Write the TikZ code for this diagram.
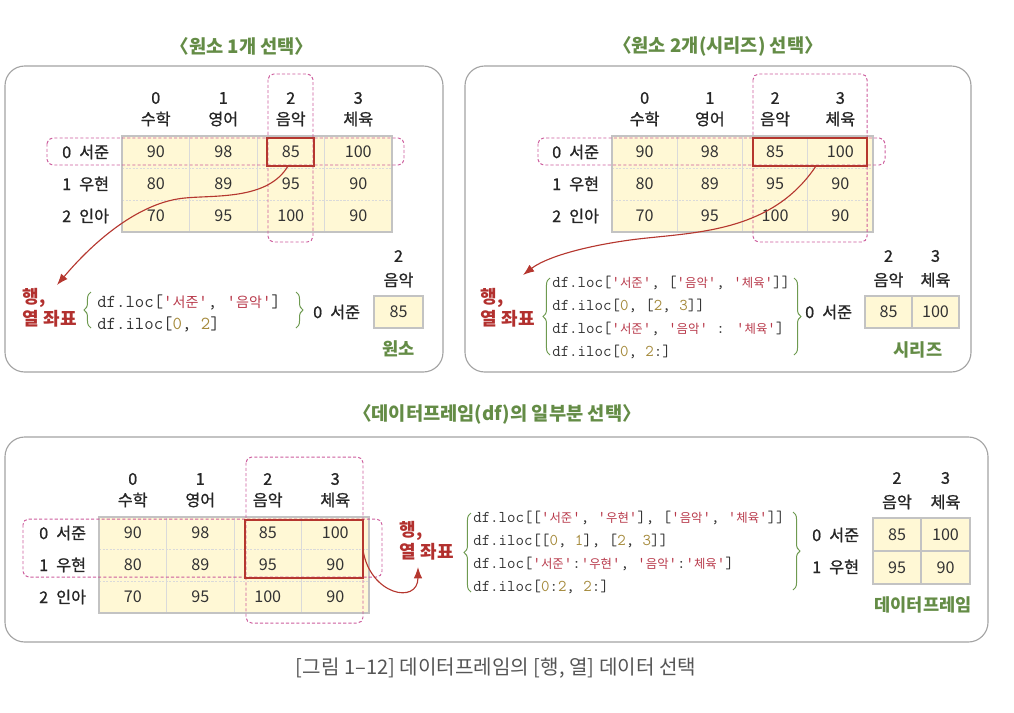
\documentclass[tikz,border=0pt]{standalone}
\usepackage{fontspec}
\setmainfont{Noto Sans CJK KR}
\newfontfamily\kofont{Noto Sans CJK KR}
\newfontfamily\kosemi[FakeBold=1.1]{Noto Sans CJK KR}
\usetikzlibrary{decorations.pathreplacing,arrows.meta}

\definecolor{panelgray}{HTML}{A3A3A3}
\definecolor{titlegreen}{HTML}{648C46}
\definecolor{labred}{HTML}{B2302E}
\definecolor{pickred}{HTML}{B5372F}
\definecolor{selpink}{HTML}{CC5C9C}
\definecolor{cellfill}{HTML}{FFF8D5}
\definecolor{framegray}{HTML}{C3C3C3}
\definecolor{linegray}{HTML}{DADADA}
\definecolor{codered}{HTML}{B83A4B}
\definecolor{codenum}{HTML}{A58A3C}
\definecolor{codeblack}{HTML}{333333}
\definecolor{bracegreen}{HTML}{6E9A50}
\definecolor{capgray}{HTML}{555555}

% quoted Korean key and coloured number inside code
\newcommand{\kq}[1]{\textcolor{codered}{'{\kofont\fontsize{8.8}{10}\selectfont #1}'}}
\newcommand{\kqbig}[1]{\textcolor{codered}{'{\kofont\fontsize{10}{11}\selectfont #1}'}}
\newcommand{\cn}[1]{\textcolor{codenum}{#1}}

\begin{document}
\begin{tikzpicture}[x=0.025cm, y=-0.025cm,
    panel/.style={draw=panelgray, line width=0.8pt, rounded corners=14pt},
    title/.style={font=\bfseries\fontsize{13.3}{15}\selectfont, text=titlegreen},
    lab/.style={font=\kosemi\fontsize{11.5}{13}\selectfont, text=black!85},
    cell/.style={font=\fontsize{11.5}{13}\selectfont, text=black!80},
    tableframe/.style={draw=framegray, line width=1.6pt},
    cellline/.style={draw=linegray, line width=0.5pt},
    rowline/.style={draw=linegray, line width=0.5pt, dash pattern=on 1.5pt off 1pt},
    pick/.style={draw=pickred, line width=1.6pt},
    selbox/.style={draw=selpink, line width=0.7pt, dash pattern=on 2.2pt off 1.5pt, rounded corners=4pt},
    coordlab/.style={font=\bfseries\fontsize{12.8}{15.5}\selectfont, text=labred, align=left},
    codetxt/.style={font=\ttfamily\fontsize{11.7}{16.3}\selectfont, text=codeblack, align=left, inner sep=0pt},
    brc/.style={draw=bracegreen, line width=0.7pt, decorate, decoration={brace, amplitude=5pt}},
    ray/.style={draw=pickred, line width=0.8pt, -{Latex[length=8pt, width=6pt]}},
    kind/.style={font=\bfseries\fontsize{12.5}{14}\selectfont, text=titlegreen},
    minibox/.style={draw=framegray, line width=1.6pt, fill=cellfill}
  ]
  \useasboundingbox (0,0) rectangle (1014,712);

  % Panels and their titles
  \draw[panel] (5,66) rectangle (443,372);
  \draw[panel] (465,66) rectangle (971,372);
  \draw[panel] (5,437) rectangle (988,642);
  \node[title] (tltitle) at (242,46) {〈원소 1개 선택〉};
  \node[title] (trtitle) at (718,46) {〈원소 2개(시리즈) 선택〉};
  \node[title] (bmtitle) at (497,414) {〈데이터프레임(df)의 일부분 선택〉};

  % The three score tables
  \foreach \tn/\xo/\yo/\w in {tl/122/136/67.5, tr/612/136/65.25, bm/99/517/67.5}{
    \fill[cellfill] (\xo,\yo) rectangle ++(4*\w,96);
    \foreach \c in {1,2,3}
      \draw[cellline] (\xo+\c*\w,\yo) -- ++(0,96);
    \foreach \r in {1,2}
      \draw[rowline] (\xo,\yo+\r*32) -- ++(4*\w,0);
    \draw[tableframe] (\xo,\yo) rectangle ++(4*\w,96);
    % column headers
    \foreach \hd [count=\c from 0] in {수학,영어,음악,체육}{
      \node[lab] (\tn-n\c) at (\xo+\c*\w+0.5*\w,\yo-38) {\c};
      \node[lab] (\tn-h\c) at (\xo+\c*\w+0.5*\w,\yo-17) {\hd};
    }
    % rows
    \foreach \nm/\vals [count=\r from 0] in {서준/{90,98,85,100}, 우현/{80,89,95,90}, 인아/{70,95,100,90}}{
      \node[lab, anchor=east] (\tn-r\r) at (\xo-8,\yo+\r*32+16) {\r\hspace{0.5em}\nm};
      \foreach \v [count=\c from 0] in \vals
        \node[cell] (\tn-v\r\c) at (\xo+\c*\w+0.5*\w,\yo+\r*32+16) {\v};
    }
  }

  % Selections
  \draw[selbox] (47,138) rectangle (404,165);
  \draw[selbox] (268,74) rectangle (313,242);
  \draw[pick] (267,138) rectangle (314,166);
  \draw[selbox] (538,138) rectangle (885,165);
  \draw[selbox] (753,74) rectangle (867,242);
  \draw[pick] (753,138) rectangle (867,166);
  \draw[selbox] (23,519) rectangle (382,577);
  \draw[selbox] (246,457) rectangle (363,623);
  \draw[pick] (245,520) rectangle (363,578);

  % Row, column labels
  \node[coordlab, anchor=west] (tlrc) at (18,308) {행,\\열 좌표};
  \node[coordlab, anchor=west] (trrc) at (476,308) {행,\\열 좌표};
  \node[coordlab, anchor=west] (bmrc) at (395,541) {행,\\열 좌표};

  % Arrows from selection to label
  \coordinate (tlfrom) at (288,166);
  \coordinate (tlto) at (57,285);
  \draw[ray] (tlfrom) .. controls (268,200) and (215,195) .. (185,198)
    .. controls (140,202) and (95,240) .. (tlto);
  \coordinate (trfrom) at (816,166);
  \coordinate (trto) at (523,275);
  \draw[ray] (trfrom) .. controls (770,235) and (690,232) .. (630,240)
    .. controls (580,247) and (545,258) .. (trto);
  \coordinate (bmfrom) at (363,550);
  \coordinate (bmto) at (418,567);
  \draw[ray] (bmfrom) .. controls (370,595) and (418,605) .. (bmto);

  % Code
  \node[codetxt, font=\ttfamily\fontsize{13}{15.6}\selectfont, anchor=west] (tlcode) at (97,313)
    {df.loc[\kqbig{서준}, \kqbig{음악}]\\df.iloc[\cn{0}, \cn{2}]};
  \node[codetxt, anchor=west] (trcode) at (552,317.5)
    {df.loc[\kq{서준}, [\kq{음악}, \kq{체육}]]\\
     df.iloc[\cn{0}, [\cn{2}, \cn{3}]]\\
     df.loc[\kq{서준}, \kq{음악} : \kq{체육}]\\
     df.iloc[\cn{0}, \cn{2}:]};
  \node[codetxt, anchor=west] (bmcode) at (473,552.5)
    {df.loc[[\kq{서준}, \kq{우현}], [\kq{음악}, \kq{체육}]]\\
     df.iloc[[\cn{0}, \cn{1}], [\cn{2}, \cn{3}]]\\
     df.loc[\kq{서준}:\kq{우현}, \kq{음악}:\kq{체육}]\\
     df.iloc[\cn{0}:\cn{2}, \cn{2}:]};

  % Braces
  \draw[brc] (91,328) -- (91,292);
  \draw[brc] (296,292) -- (296,328);
  \draw[brc] (550,355) -- (550,278);
  \draw[brc] (794,278) -- (794,355);
  \draw[brc] (471,592) -- (471,513);
  \draw[brc] (793,512) -- (793,590);

  % Result: one element
  \draw[minibox] (374,296) rectangle (423,328);
  \node[cell] (tlm-v) at (398.5,312) {85};
  \node[lab] (tlm-n) at (398.5,256) {2};
  \node[lab] (tlm-h) at (398.5,280) {음악};
  \node[lab, anchor=east] (tlm-r) at (365,312) {0\hspace{0.5em}서준};
  \node[kind] (tlkind) at (398.5,349) {원소};

  % Result: series
  \draw[minibox] (865,296) rectangle (959,328);
  \draw[tableframe] (912,296) -- (912,328);
  \node[cell] (trm-v0) at (888.5,312) {85};
  \node[cell] (trm-v1) at (935.5,312) {100};
  \node[lab] (trm-n0) at (888.5,256) {2};
  \node[lab] (trm-h0) at (888.5,280) {음악};
  \node[lab] (trm-n1) at (935.5,256) {3};
  \node[lab] (trm-h1) at (935.5,280) {체육};
  \node[lab, anchor=east] (trm-r) at (857,312) {0\hspace{0.5em}서준};
  \node[kind] (trkind) at (918,350) {시리즈};

  % Result: data frame
  \draw[minibox] (873,518) rectangle (970,584);
  \draw[tableframe] (921,518) -- (921,584);
  \draw[tableframe] (873,551) -- (970,551);
  \node[cell] (bmm-v00) at (897,534.5) {85};
  \node[cell] (bmm-v01) at (945.5,534.5) {100};
  \node[cell] (bmm-v10) at (897,567.5) {95};
  \node[cell] (bmm-v11) at (945.5,567.5) {90};
  \node[lab] (bmm-n0) at (897,478) {2};
  \node[lab] (bmm-h0) at (897,502) {음악};
  \node[lab] (bmm-n1) at (945.5,478) {3};
  \node[lab] (bmm-h1) at (945.5,502) {체육};
  \node[lab, anchor=east] (bmm-r0) at (864,535) {0\hspace{0.5em}서준};
  \node[lab, anchor=east] (bmm-r1) at (864,567) {1\hspace{0.5em}우현};
  \node[kind] (bmkind) at (923,605) {데이터프레임};

  % Caption
  \node[font=\fontsize{14.3}{16}\selectfont, text=capgray] (caption) at (496,668)
    {[그림 1–12] 데이터프레임의 [행, 열] 데이터 선택};
\end{tikzpicture}
\end{document}
